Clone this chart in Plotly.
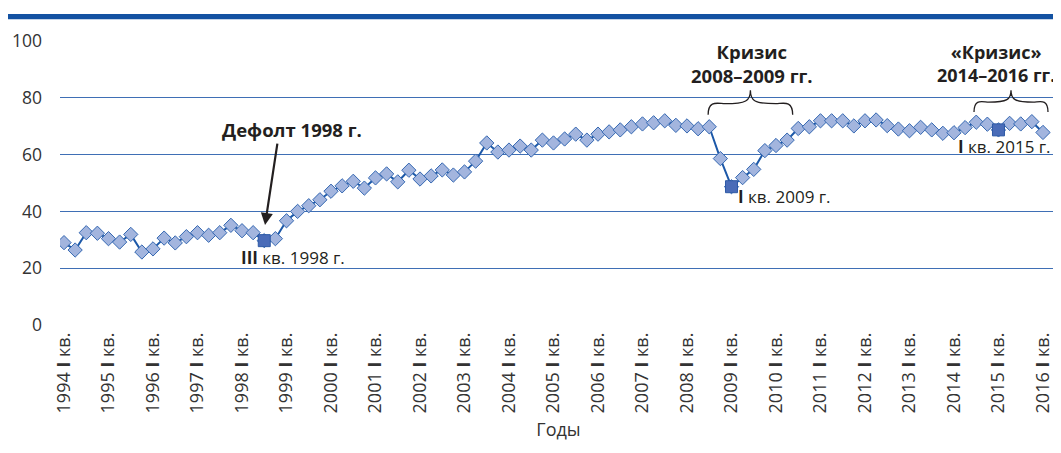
import plotly.graph_objects as go

years = list(range(1994, 2017))
values = [
    29.0, 26.4, 32.5, 32.3,
    30.4, 29.2, 31.9, 25.7,
    26.8, 30.6, 28.9, 31.1,
    32.5, 31.6, 32.5, 35.1,
    33.2, 32.5, 29.7, 30.4,
    36.7, 40.0, 42.0, 44.1,
    47.1, 49.0, 50.6, 48.2,
    51.8, 53.2, 50.4, 54.5,
    51.4, 52.5, 54.6, 52.8,
    53.9, 57.7, 64.1, 60.9,
    61.6, 63.0, 61.6, 65.1,
    64.1, 65.5, 67.2, 65.1,
    67.2, 68.0, 68.7, 69.8,
    70.8, 71.2, 71.9, 70.3,
    70.1, 69.1, 69.8, 58.6,
    48.7, 51.9, 54.8, 61.4,
    63.2, 65.1, 69.2, 69.8,
    71.9, 71.9, 71.9, 70.1,
    71.9, 72.2, 70.2, 69.0,
    68.4, 69.6, 68.7, 67.5,
    67.7, 69.5, 71.4, 70.7,
    68.7, 71.0, 70.8, 71.6,
    67.8,
]
highlight_idx = [18, 60, 84]  # III кв. 1998, I кв. 2009, I кв. 2015
tick_labels = [f"{y} <b>I</b> кв." for y in years]

x = list(range(len(values)))
FONT = "Open Sans"
TXT = "#231f20"

W, H = 1053, 445
ML, MT, PW, PH = 52, 33, 997, 284

fig = go.Figure()
fig.add_trace(go.Scatter(
    x=x, y=values, mode="lines+markers",
    line=dict(color="#1c58a8", width=2),
    marker=dict(symbol="diamond", size=11, color="#a3b5de",
                line=dict(color="#3568b2", width=1)),
    hoverinfo="skip", showlegend=False,
))
fig.add_trace(go.Scatter(
    x=highlight_idx, y=[values[i] for i in highlight_idx], mode="markers",
    marker=dict(symbol="square", size=12, color="#4a6cb8",
                line=dict(color="#2e5aa6", width=1)),
    hoverinfo="skip", showlegend=False,
))

def brace(x0, x1, ybase, ytop):
    xm = (x0 + x1) / 2
    ymid = ybase + (ytop - ybase) * 0.45
    dx = (x1 - x0)
    return (f"M {x0},{ybase} C {x0},{ymid+1.5} {x0+dx*0.12},{ymid} {xm-dx*0.3},{ymid} "
            f"C {xm-dx*0.05},{ymid} {xm},{ymid+1} {xm},{ytop} "
            f"C {xm},{ymid+1} {xm+dx*0.05},{ymid} {xm+dx*0.3},{ymid} "
            f"C {x1-dx*0.12},{ymid} {x1},{ymid+1.5} {x1},{ybase}")

def py(fy):
    return (MT + PH - fy) / PH

shapes = [
    dict(type="path", xref="x", yref="y", path=brace(57.9, 65.5, 74.0, 82.7),
         line=dict(color=TXT, width=1.3)),
    dict(type="path", xref="x", yref="y", path=brace(81.8, 88.45, 75.0, 82.7),
         line=dict(color=TXT, width=1.3)),
    dict(type="rect", xref="paper", yref="paper", x0=-ML / PW, x1=(W - ML) / PW,
         y0=py(11.3), y1=py(6.0),
         fillcolor="#1352a2", line=dict(width=0), layer="above"),
]

annotations = [
    dict(x=20.5, y=68.7, xref="x", yref="y", text="<b>Дефолт 1998 г.</b>",
         showarrow=False, font=dict(size=18.5, color=TXT, family=FONT)),
    dict(x=18.07, y=35.2, ax=19.2, ay=64.4, xref="x", yref="y", axref="x", ayref="y",
         text="", showarrow=True, arrowhead=2, arrowsize=1.1, arrowwidth=2.2,
         arrowcolor=TXT),
    dict(x=15.7, y=23.8, xref="x", yref="y", xanchor="left",
         text="<b>III</b> кв. 1998 г.", showarrow=False,
         font=dict(size=17, color=TXT, family=FONT)),
    dict(x=61.8, y=92.1, xref="x", yref="y", text="<b>Кризис<br>2008–2009 гг.</b>",
         showarrow=False, font=dict(size=18.5, color=TXT, family=FONT)),
    dict(x=83.75, y=92.1, xref="x", yref="y", text="<b>«Кризис»<br>2014–2016 гг.</b>",
         showarrow=False, font=dict(size=18, color=TXT, family=FONT)),
    dict(x=60.4, y=45.1, xref="x", yref="y", xanchor="left",
         text="<b>I</b> кв. 2009 г.", showarrow=False,
         font=dict(size=17, color=TXT, family=FONT)),
    dict(x=80.2, y=63.0, xref="x", yref="y", xanchor="left",
         text="<b>I</b> кв. 2015 г.", showarrow=False,
         font=dict(size=17, color=TXT, family=FONT)),
]

fig.update_layout(
    width=W, height=H,
    margin=dict(l=ML, r=W - ML - PW, t=MT, b=H - MT - PH),
    paper_bgcolor="white", plot_bgcolor="white",
    font=dict(family=FONT, color=TXT),
    shapes=shapes, annotations=annotations,
    xaxis=dict(
        range=[-0.36, 89.26], tickmode="array",
        tickvals=[i * 4 for i in range(len(years))], ticktext=tick_labels,
        tickangle=-90, tickfont=dict(size=18, color="#333333", family=FONT),
        showgrid=False, zeroline=False, showline=False, ticks="",
        ticklabelstandoff=3,
        title=dict(text="Годы", font=dict(size=18, color="#333333", family=FONT),
                   standoff=10),
    ),
    yaxis=dict(
        range=[0, 100], tickvals=[0, 20, 40, 60, 80, 100],
        showgrid=True, gridcolor="#3f6fb5", gridwidth=1.2,
        zeroline=False, showline=False, ticks="",
        tickfont=dict(size=17.5, color="#333333", family=FONT),
        ticklabelstandoff=17,
    ),
)

fig.write_html("out.html")
